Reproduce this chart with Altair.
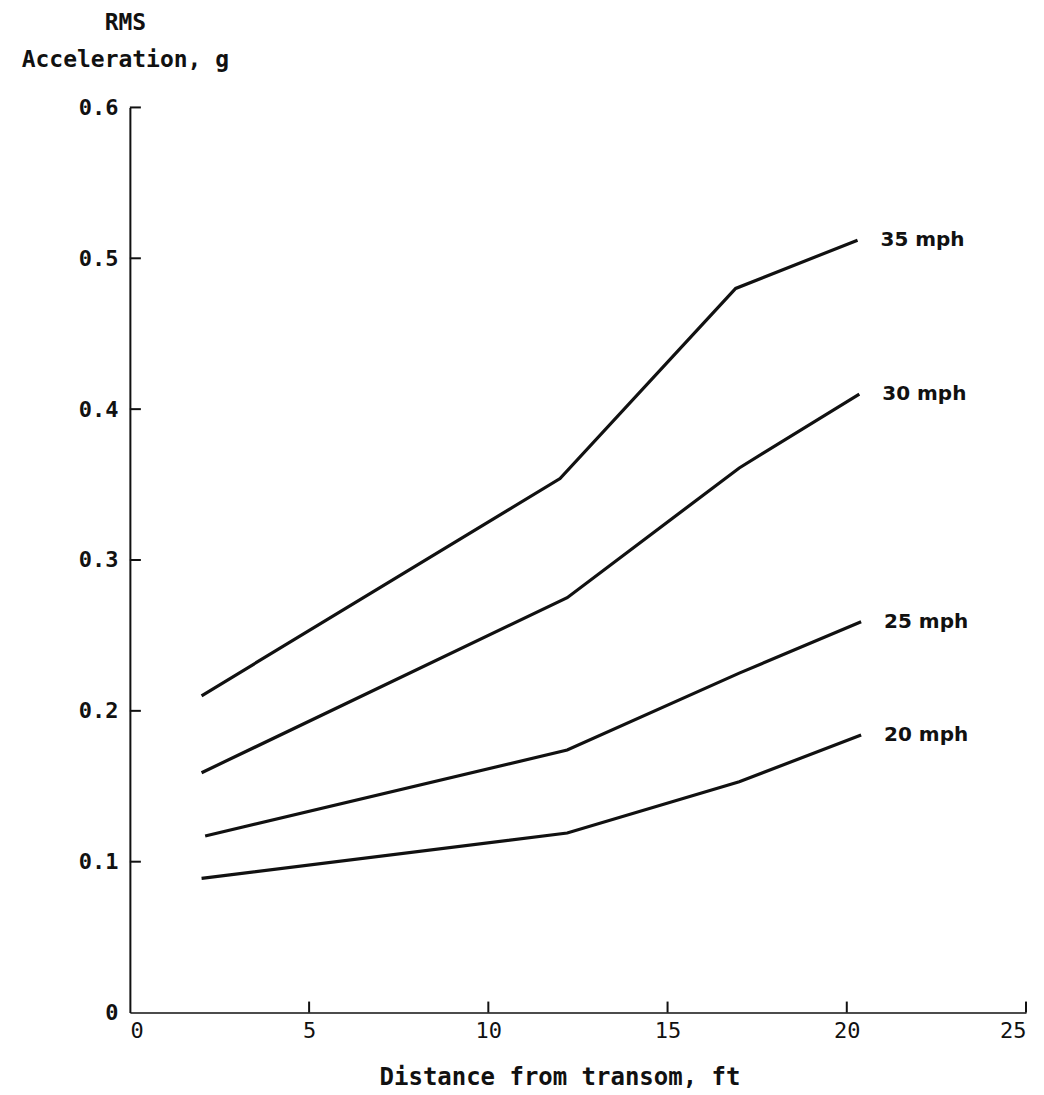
import altair as alt
import pandas as pd

# ---- data ----
speeds = ["35 mph", "30 mph", "25 mph", "20 mph"]
dist_35 = [2.0, 12.0, 16.9, 20.3]
rms_35 = [0.210, 0.354, 0.480, 0.512]
dist_30 = [2.0, 12.2, 17.0, 20.35]
rms_30 = [0.159, 0.275, 0.361, 0.410]
dist_25 = [2.1, 12.2, 17.0, 20.4]
rms_25 = [0.117, 0.174, 0.225, 0.259]
dist_20 = [2.0, 12.2, 17.0, 20.4]
rms_20 = [0.089, 0.119, 0.153, 0.184]

x_ticks = [5, 10, 15, 20, 25]
y_ticks = [0.1, 0.2, 0.3, 0.4, 0.5, 0.6]

rows = []
for name, xs, ys in zip(speeds, [dist_35, dist_30, dist_25, dist_20],
                        [rms_35, rms_30, rms_25, rms_20]):
    for i, (xv, yv) in enumerate(zip(xs, ys)):
        rows.append({"speed": name, "dist": xv, "rms": yv, "last": i == len(xs) - 1})
df = pd.DataFrame(rows)

MONO = "DejaVu Sans Mono"
W, H = 897, 906

xscale = alt.Scale(domain=[0, 25], nice=False, zero=False)
yscale = alt.Scale(domain=[0, 0.6], nice=False)

base = alt.Chart(df)

lines = base.mark_line(color="#111111", strokeWidth=3.2).encode(
    x=alt.X("dist:Q", scale=xscale,
            axis=alt.Axis(values=[0] + x_ticks, title="Distance from transom, ft",
                          tickSize=0, labelPadding=8, labelFont=MONO,
                          labelFontSize=22, labelColor="#111", grid=False,
                          domainColor="#111", domainWidth=1.5,
                          titleFont=MONO, titleFontSize=24, titleFontWeight="bold",
                          titleColor="#111", titleBaseline="alphabetic",
                          titleX=430, titleY=72)),
    y=alt.Y("rms:Q", scale=yscale,
            axis=alt.Axis(values=[0] + y_ticks, tickSize=0, labelPadding=12,
                          labelExpr="datum.value == 0 ? '0' : format(datum.value, '.1f')",
                          labelFont=MONO, labelFontSize=22, labelFontWeight="bold",
                          labelColor="#111", grid=False, domainColor="#111",
                          domainWidth=2,
                          title=["RMS", "Acceleration, g"], titleAngle=0,
                          titleAlign="center", titleBaseline="alphabetic",
                          titleX=-5, titleY=-78, titleLineHeight=37,
                          titleFont=MONO, titleFontSize=23, titleFontWeight="bold",
                          titleColor="#111")),
    detail="speed:N",
)

labels = base.transform_filter("datum.last").mark_text(
    align="left", baseline="middle", dx=23, font="DejaVu Sans",
    fontSize=20, fontWeight="bold", color="#111"
).encode(
    x=alt.X("dist:Q", scale=xscale),
    y=alt.Y("rms:Q", scale=yscale),
    text="speed:N",
)

yt = alt.Chart(pd.DataFrame({"rms": y_ticks})).mark_rule(
    color="#111", strokeWidth=2
).encode(
    y=alt.Y("rms:Q", scale=yscale),
    x=alt.value(0), x2=alt.value(11),
)

xt = alt.Chart(pd.DataFrame({"dist": x_ticks})).mark_rule(
    color="#111", strokeWidth=2
).encode(
    x=alt.X("dist:Q", scale=xscale),
    y=alt.value(H), y2=alt.value(H - 11),
)

chart = alt.layer(lines, labels, yt, xt).properties(
    width=W, height=H,
    autosize=alt.AutoSizeParams(type="none"),
    padding={"left": 122, "top": 99, "right": 10, "bottom": 86},
    background="white",
).configure_view(stroke=None)

chart.save("out.html", embed_options={"renderer": "svg", "actions": False})
